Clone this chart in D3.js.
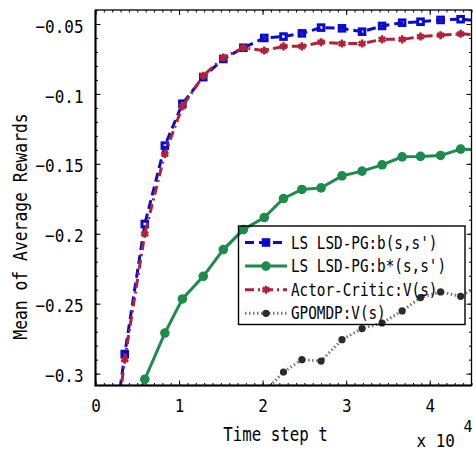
<!DOCTYPE html>
<html>
<head>
<meta charset="utf-8">
<script src="https://cdn.jsdelivr.net/npm/d3@7"></script>
<style>
  body { margin: 0; background: #fff; }
  text { font-family: "DejaVu Sans Mono", monospace; fill: #000; }
</style>
</head>
<body>
<div id="visualization"></div>
<script>
// time steps (x)
var steps = [1150, 3500, 5900, 8300, 10400, 12900, 15300, 17700, 20200, 22500,
             24700, 27000, 29500, 31900, 34300, 36700, 38900, 41300, 43700, 46100];

var lsdB = [-0.39, -0.286, -0.193, -0.137, -0.107, -0.088, -0.075, -0.067, -0.060, -0.059,
            -0.0567, -0.0526, -0.0531, -0.0555, -0.0514, -0.0491, -0.0484, -0.0471, -0.0466, -0.048];
var lsdBstar = [null, -0.34, -0.304, -0.271, -0.2466, -0.2304, -0.2113, -0.197, -0.1884, -0.1748,
                -0.1683, -0.1672, -0.1586, -0.1552, -0.1507, -0.145, -0.1447, -0.144, -0.1395, -0.140];
var actorCritic = [-0.40, -0.290, -0.200, -0.143, -0.109, -0.087, -0.074, -0.067, -0.069, -0.066,
                   -0.066, -0.063, -0.064, -0.064, -0.061, -0.061, -0.059, -0.058, -0.057, -0.058];
var gpomdp = [null, null, null, null, null, null, null, null, -0.313, -0.2989,
              -0.290, -0.291, -0.2757, -0.2678, -0.2638, -0.2552, -0.2456, -0.2416, -0.2447, -0.236];

var seriesNames = ["LS LSD-PG:b(s,s')", "LS LSD-PG:b*(s,s')", "Actor-Critic:V(s)", "GPOMDP:V(s)"];
var xTicks = [0, 10000, 20000, 30000, 40000];
var yTicks = [-0.3, -0.25, -0.2, -0.15, -0.1, -0.05];

render();

// squeeze a text horizontally (around its anchor) so each char takes perChar px
function fit(sel, perChar) {
  sel.each(function() {
    var t = d3.select(this);
    var len = this.getComputedTextLength();
    var s = t.text().length * perChar / len;
    var ax = +t.attr("x") || 0, ay = +t.attr("y") || 0;
    var prev = t.attr("transform") || "";
    t.attr("transform", prev + " translate(" + ax + "," + ay + ") scale(" + s + ",1) translate(" + (-ax) + "," + (-ay) + ")");
  });
}

function render() {
  var width = 473, height = 452;
  var left = 95.5, right = 471.5, top = 10, bottom = 385.5;

  var x = d3.scaleLinear().domain([0, 45000]).range([left, right]);
  var y = d3.scaleLinear().domain([-0.3085, -0.04]).range([bottom, top]);

  var svg = d3.select("#visualization").append("svg")
      .attr("width", width)
      .attr("height", height);

  svg.append("clipPath").attr("id", "plot-clip")
     .append("rect")
     .attr("x", left).attr("y", top)
     .attr("width", right - left).attr("height", bottom - top);

  // minor ticks
  var xMinor = d3.range(0, 45001, 1000);
  var yMinor = d3.range(-0.30, -0.0399, 0.01);

  svg.append("g").attr("transform", "translate(0," + bottom + ")")
     .call(d3.axisBottom(x).tickValues(xMinor).tickSize(-2.5).tickFormat(""));
  svg.append("g").attr("transform", "translate(0," + top + ")")
     .call(d3.axisTop(x).tickValues(xMinor).tickSize(-2.5).tickFormat(""));
  svg.append("g").attr("transform", "translate(" + left + ",0)")
     .call(d3.axisLeft(y).tickValues(yMinor).tickSize(-2.5).tickFormat(""));
  svg.append("g").attr("transform", "translate(" + right + ",0)")
     .call(d3.axisRight(y).tickValues(yMinor).tickSize(-2.5).tickFormat(""));

  // major ticks
  var xAxis = svg.append("g").attr("class", "x axis")
     .attr("transform", "translate(0," + bottom + ")")
     .call(d3.axisBottom(x).tickValues(xTicks).tickSize(-5).tickPadding(14)
            .tickFormat(function(d) { return d / 10000; }));
  svg.append("g").attr("transform", "translate(0," + top + ")")
     .call(d3.axisTop(x).tickValues(xTicks).tickSize(-5).tickFormat(""));
  var yAxis = svg.append("g").attr("class", "y axis")
     .attr("transform", "translate(" + left + ",0)")
     .call(d3.axisLeft(y).tickValues(yTicks).tickSize(-5).tickPadding(12)
            .tickFormat(d3.format("~g")));
  svg.append("g").attr("transform", "translate(" + right + ",0)")
     .call(d3.axisRight(y).tickValues(yTicks).tickSize(-5).tickFormat(""));

  svg.selectAll(".domain").remove();
  svg.selectAll(".tick line").attr("stroke", "#000").attr("stroke-width", 1);

  xAxis.selectAll("text").attr("font-size", 18).attr("fill", "#000")
       .attr("dy", "0.75em").attr("y", 13);
  yAxis.selectAll("text").attr("font-size", 18).attr("fill", "#000")
       .attr("dy", "0.45em");
  fit(yAxis.selectAll("text"), 9.6);
  fit(xAxis.selectAll("text"), 9.6);

  // data
  var plot = svg.append("g").attr("clip-path", "url(#plot-clip)");

  var styles = [
    { values: lsdB, color: "#0b0bcc", dash: "9,5", marker: "square" },
    { values: lsdBstar, color: "#1c8b4b", dash: null, marker: "circle" },
    { values: actorCritic, color: "#b3203a", dash: "9,4,2,4", marker: "star" },
    { values: gpomdp, color: "#777", dash: "1.5,2.5", marker: "dot" }
  ];

  var line = d3.line()
      .defined(function(d) { return d[1] != null; })
      .x(function(d) { return x(d[0]); })
      .y(function(d) { return y(d[1]); });

  function drawMarker(g, s, cx, cy) {
    if (s.marker == "square") {
      g.append("rect").attr("x", cx - 2.8).attr("y", cy - 2.8)
       .attr("width", 5.6).attr("height", 5.6)
       .attr("fill", "none").attr("stroke", s.color).attr("stroke-width", 3);
    } else if (s.marker == "circle") {
      g.append("circle").attr("cx", cx).attr("cy", cy).attr("r", 4.8).attr("fill", s.color);
    } else if (s.marker == "star") {
      g.append("path").attr("d", d3.symbol(d3.symbolAsterisk, 45)())
       .attr("transform", "translate(" + cx + "," + cy + ")")
       .attr("fill", "none").attr("stroke", s.color).attr("stroke-width", 2.6);
    } else {
      g.append("circle").attr("cx", cx).attr("cy", cy).attr("r", 3.6).attr("fill", "#2b2b2b");
    }
  }

  styles.forEach(function(s) {
    var pts = steps.map(function(t, i) { return [t, s.values[i]]; });
    plot.append("path").datum(pts)
        .attr("fill", "none")
        .attr("stroke", s.color)
        .attr("stroke-width", 3)
        .attr("stroke-dasharray", s.dash)
        .attr("d", line);
    var mg = plot.append("g");
    pts.filter(function(d) { return d[1] != null; })
       .forEach(function(d) { drawMarker(mg, s, x(d[0]), y(d[1])); });
  });

  // box
  svg.append("rect").attr("x", left).attr("y", top)
     .attr("width", right - left).attr("height", bottom - top)
     .attr("fill", "none").attr("stroke", "#000").attr("stroke-width", 1.3);
  svg.append("path").attr("d", "M" + left + "," + top + "V" + bottom + "H" + right)
     .attr("fill", "none").attr("stroke", "#000").attr("stroke-width", 2);

  // legend
  var lg = svg.append("g");
  lg.append("rect").attr("x", 238.5).attr("y", 226).attr("width", 226.5).attr("height", 98.5)
    .attr("fill", "none").attr("stroke", "#000").attr("stroke-width", 1.4);
  seriesNames.forEach(function(name, i) {
    var s = styles[i];
    var cy = 242.5 + i * 23.6;
    lg.append("line").attr("x1", 245).attr("x2", 287).attr("y1", cy).attr("y2", cy)
      .attr("stroke", s.color).attr("stroke-width", 3).attr("stroke-dasharray", s.dash);
    drawMarker(lg, s, 266, cy);
    var t = lg.append("text").attr("x", 291).attr("y", cy).attr("dy", "0.36em")
      .attr("font-size", 17).text(name);
    fit(t, 8.62);
  });

  // axis labels
  var xl = svg.append("text").attr("x", 275.5).attr("y", 441.5)
     .attr("text-anchor", "middle").attr("font-size", 19).text("Time step t");
  fit(xl, 9.5);

  var yl = svg.append("text")
     .attr("transform", "translate(20,226.5) rotate(-90)")
     .attr("text-anchor", "middle").attr("dy", "0.36em")
     .attr("font-size", 19).text("Mean of Average Rewards");
  fit(yl, 9.85);

  var ex = svg.append("text").attr("x", 416.5).attr("y", 447.5)
     .attr("font-size", 18).text("x 10");
  fit(ex, 9.6);
  svg.append("text").attr("x", 463.5).attr("y", 431.5)
     .attr("font-size", 15).text("4");
}
</script>
</body>
</html>
